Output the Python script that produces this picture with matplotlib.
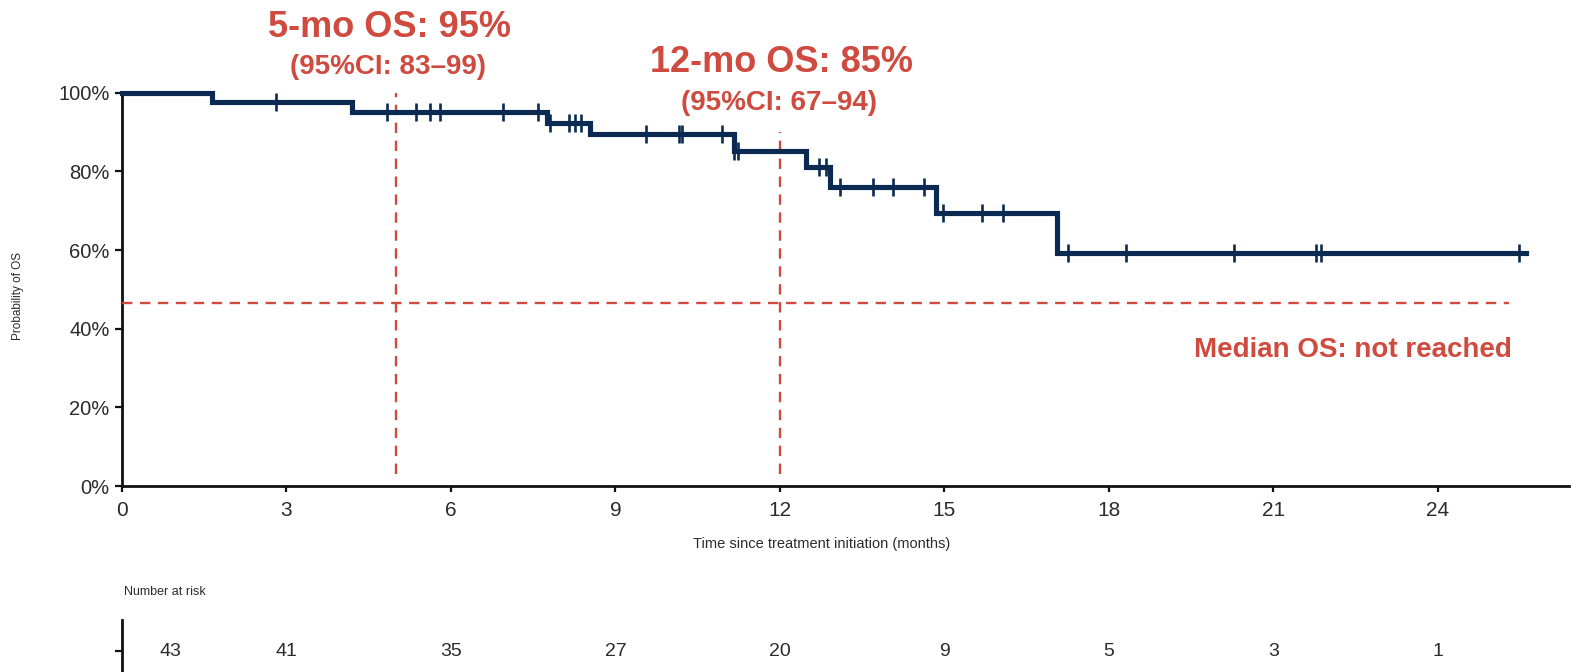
import numpy as np
import matplotlib
matplotlib.use("Agg")
import matplotlib.pyplot as plt

plt.rcParams["font.family"] = ["Liberation Sans", "DejaVu Sans"]

# Kaplan-Meier step function: event times (months) and survival after each step
step_times = [0.0, 1.64, 4.19, 7.75, 8.54, 11.16, 12.47, 12.91, 14.85, 17.06]
step_surv = [1.000, 0.977, 0.952, 0.924, 0.894, 0.852, 0.810, 0.761, 0.693, 0.593]
last_followup = 25.6

# censored observations (months)
censor_times = [2.81, 4.83, 5.37, 5.62, 5.80, 6.94, 7.58, 7.81, 8.15, 8.26,
                8.37, 9.55, 10.15, 10.21, 10.94, 11.17, 11.24, 12.71, 12.84,
                13.09, 13.70, 14.07, 14.63, 14.98, 15.68, 16.07, 17.25, 18.31,
                20.28, 21.77, 21.87, 25.48]

# number at risk table
risk_times = [0, 3, 6, 9, 12, 15, 18, 21, 24]
risk_counts = [43, 41, 35, 27, 20, 9, 5, 3, 1]

x_ticks = [0, 3, 6, 9, 12, 15, 18, 21, 24]
y_ticks = [0.0, 0.2, 0.4, 0.6, 0.8, 1.0]
y_tick_labels = ["0%", "20%", "40%", "60%", "80%", "100%"]

landmark_times = [5, 12]
landmark_tops = [1.0, 0.90]
median_ref = 0.465

NAVY = "#0b2a52"
RED = "#cf4a3f"
GREY = "#2b2b2b"

W, H = 1589, 672
fig = plt.figure(figsize=(W / 100, H / 100), dpi=100)


def fx(px):
    return px / W


def fy(py):
    return 1 - py / H


x_left, x_right = 122, 1569
y_top, y_bottom = 92.7, 486
ax = fig.add_axes([fx(x_left), fy(y_bottom), fx(x_right - x_left), (y_bottom - y_top) / H])
ax.set_xlim(0, 26.39)
ax.set_ylim(0, 1)

# survival curve
t = list(step_times) + [last_followup]
s = list(step_surv) + [step_surv[-1]]
ax.step(t, s, where="post", color=NAVY, lw=3.7, solid_joinstyle="miter", clip_on=False, zorder=4)

idx = np.searchsorted(step_times, censor_times, side="right") - 1
cens_s = np.array(step_surv)[idx]
ax.plot(censor_times, cens_s, ls="none", marker="|", ms=13, mew=1.9, color=NAVY,
        clip_on=False, zorder=5)

# landmark and median reference lines
for lt, top in zip(landmark_times, landmark_tops):
    ax.plot([lt, lt], [0.03, top], color=RED, lw=1.7, dashes=(4.4, 3.2), zorder=3)
ax.plot([0, 25.3], [median_ref, median_ref], color=RED, lw=1.7, dashes=(4.4, 3.2), zorder=3)

for side in ("top", "right"):
    ax.spines[side].set_visible(False)
for side in ("left", "bottom"):
    ax.spines[side].set_linewidth(2.0)
    ax.spines[side].set_color("#111111")

ax.set_xticks(x_ticks)
ax.set_xticklabels([str(v) for v in x_ticks])
ax.set_yticks(y_ticks)
ax.set_yticklabels(y_tick_labels)
ax.tick_params(axis="x", direction="out", length=4, width=1.6, pad=7,
               labelsize=15, labelcolor=GREY, color="#111111")
ax.tick_params(axis="y", direction="out", length=5, width=1.6, pad=4,
               labelsize=14.5, labelcolor=GREY, color="#111111")

fig.text(fx(822), fy(544), "Time since treatment initiation (months)",
         ha="center", va="center", fontsize=10.5, color=GREY)
fig.text(fx(18), fy(296), "Probability of OS", rotation=90,
         ha="center", va="center", fontsize=8.5, color=GREY)

# annotations
fig.text(fx(389), fy(37.3), "5-mo OS: 95%", ha="center", va="baseline",
         fontsize=26, fontweight="bold", color=RED)
fig.text(fx(388.5), fy(74), "(95%CI: 83\u201399)", ha="center", va="baseline",
         fontsize=20, fontweight="bold", color=RED)
fig.text(fx(781), fy(71.5), "12-mo OS: 85%", ha="center", va="baseline",
         fontsize=26, fontweight="bold", color=RED)
fig.text(fx(779), fy(109.5), "(95%CI: 67\u201394)", ha="center", va="baseline",
         fontsize=20, fontweight="bold", color=RED)
fig.text(fx(1512), fy(356.7), "Median OS: not reached", ha="right", va="baseline",
         fontsize=20, fontweight="bold", color=RED)

# number at risk
fig.text(fx(124), fy(592), "Number at risk", ha="left", va="center",
         fontsize=9, color=GREY, family=["Liberation Sans Narrow", "Liberation Sans"])

rax = fig.add_axes([fx(x_left), 0, fx(x_right - x_left), (H - 620) / H])
rax.set_xlim(ax.get_xlim())
rax.set_ylim(0, 1)
for side in ("top", "right", "bottom"):
    rax.spines[side].set_visible(False)
rax.spines["left"].set_linewidth(2.0)
rax.spines["left"].set_color("#111111")
rax.set_xticks([])
rax.set_yticks([0.4])
rax.set_yticklabels([""])
rax.tick_params(axis="y", length=5, width=1.6, color="#111111")
risk_x = [0.88] + list(risk_times[1:])
for xv, n in zip(risk_x, risk_counts):
    rax.text(xv, 0.4, str(n), ha="center", va="center", fontsize=14, color=GREY,
             family=["Liberation Sans Narrow", "Liberation Sans"])

fig.savefig("out.png", dpi=100, facecolor="white")
